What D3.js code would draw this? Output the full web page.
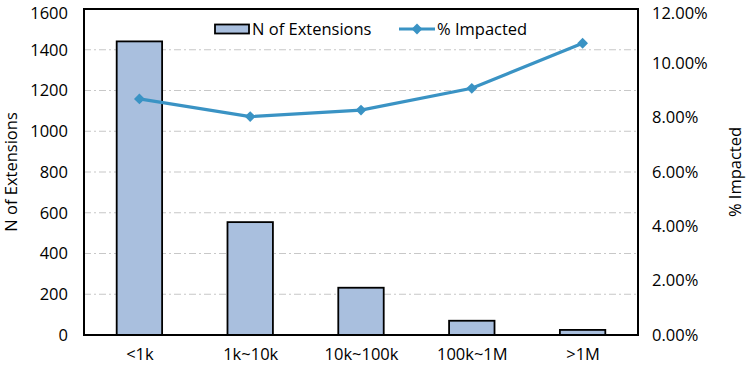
<!DOCTYPE html>
<html><head><meta charset="utf-8">
<script src="https://cdn.jsdelivr.net/npm/d3@7"></script>
<style>body{margin:0;background:#fff}svg{display:block}</style>
</head><body>
<script>
const categories = ["<1k", "1k~10k", "10k~100k", "100k~1M", ">1M"];
const nExtensions = [1441, 554, 232, 70, 25];
const pctImpacted = [8.69, 8.04, 8.28, 9.08, 10.74];
const leftTicks = [0, 200, 400, 600, 800, 1000, 1200, 1400, 1600];
const rightTicks = [0, 2, 4, 6, 8, 10, 12];

const W = 747, H = 371;
const m = {left: 84, right: 638, top: 9, bottom: 335};
const font = "'Open Sans', 'Noto Sans', sans-serif";
const fs = 16.5;
const svg = d3.select("body").append("svg").attr("width", W).attr("height", H);

const x = d3.scaleBand().domain(categories).range([m.left, m.right]).paddingInner(0.59).paddingOuter(0.295);
const xc = d3.scalePoint().domain(categories).range([m.left, m.right]).padding(0.5);
const yL = d3.scaleLinear().domain([0, 1600]).range([m.bottom, m.top]);
const yR = d3.scaleLinear().domain([0, 12]).range([m.bottom, m.top]);

// gridlines
svg.append("g").selectAll("line").data(leftTicks.filter(d => d > 0 && d < 1600)).join("line")
  .attr("x1", m.left).attr("x2", m.right).attr("y1", d => yL(d)).attr("y2", d => yL(d))
  .attr("stroke", "#c8c8c8").attr("stroke-width", 1.2).attr("stroke-dasharray", "7,3,2,3");

// bars
svg.append("g").selectAll("rect").data(categories).join("rect")
  .attr("x", d => x(d)).attr("width", x.bandwidth())
  .attr("y", (d, i) => yL(nExtensions[i])).attr("height", (d, i) => yL(0) - yL(nExtensions[i]))
  .attr("fill", "#a9bfde").attr("stroke", "#000").attr("stroke-width", 1.8);

// frame
svg.append("rect").attr("x", m.left).attr("y", m.top).attr("width", m.right - m.left).attr("height", m.bottom - m.top)
  .attr("fill", "none").attr("stroke", "#000").attr("stroke-width", 2);

// line
const lc = "#3a93c4";
const line = d3.line().x((d, i) => xc(categories[i])).y(d => yR(d));
svg.append("path").datum(pctImpacted).attr("d", line).attr("fill", "none").attr("stroke", lc).attr("stroke-width", 3.2);
const diamond = d3.symbol().type(d3.symbolDiamond2).size(75);
svg.append("g").selectAll("path").data(pctImpacted).join("path")
  .attr("d", diamond).attr("transform", (d, i) => `translate(${xc(categories[i])},${yR(d)})`)
  .attr("fill", lc);

// axes
const axL = svg.append("g").attr("transform", `translate(${m.left},0)`)
  .call(d3.axisLeft(yL).tickValues(leftTicks).tickSize(0).tickPadding(16).tickFormat(d3.format("d")));
const axR = svg.append("g").attr("transform", `translate(${m.right},0)`)
  .call(d3.axisRight(yR).tickValues(rightTicks).tickSize(0).tickPadding(14).tickFormat(d => d.toFixed(2) + "%"));
const axB = svg.append("g").attr("transform", `translate(0,${m.bottom})`)
  .call(d3.axisBottom(xc).tickSize(0).tickPadding(13));
[axL, axR, axB].forEach(a => {
  a.select(".domain").remove();
  a.selectAll("text").attr("font-family", font).attr("font-size", fs).attr("fill", "#000");
});
axL.selectAll(".tick").filter(d => d === 1600).select("text").attr("dy", "0.6em");
axR.selectAll(".tick").filter(d => d === 12).select("text").attr("dy", "0.6em");

// axis titles
svg.append("text").attr("transform", `translate(17,172) rotate(-90)`).attr("text-anchor", "middle")
  .attr("font-family", font).attr("font-size", fs).text("N of Extensions");
svg.append("text").attr("transform", `translate(741,172) rotate(-90)`).attr("text-anchor", "middle")
  .attr("font-family", font).attr("font-size", fs).text("% Impacted");

// legend
const lg = svg.append("g");
lg.append("rect").attr("x", 215).attr("y", 24.5).attr("width", 34).attr("height", 9)
  .attr("fill", "#a9bfde").attr("stroke", "#000").attr("stroke-width", 1.8);
lg.append("text").attr("x", 252).attr("y", 35).attr("font-family", font).attr("font-size", fs).text("N of Extensions");
lg.append("line").attr("x1", 399).attr("x2", 435).attr("y1", 29).attr("y2", 29).attr("stroke", lc).attr("stroke-width", 3.2);
lg.append("path").attr("d", diamond).attr("transform", "translate(417,29)").attr("fill", lc);
lg.append("text").attr("x", 437).attr("y", 35).attr("font-family", font).attr("font-size", fs).text("% Impacted");
</script>
</body></html>
